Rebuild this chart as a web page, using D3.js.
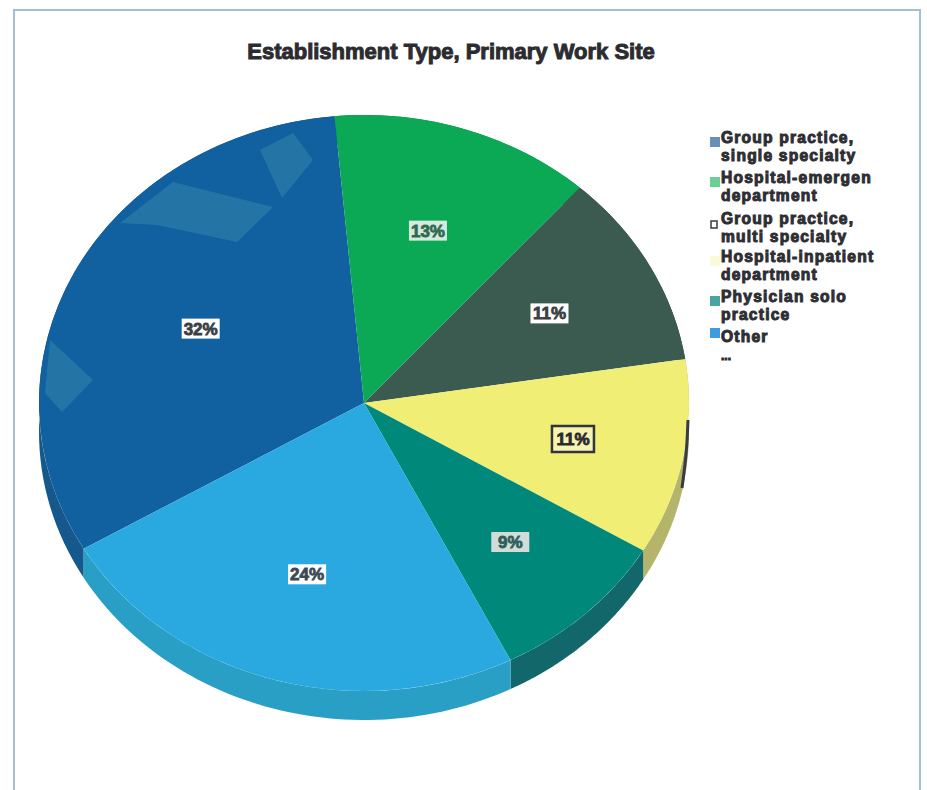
<!DOCTYPE html>
<html>
<head>
<meta charset="utf-8">
<script src="https://cdn.jsdelivr.net/npm/d3@7"></script>
<style>
  html, body { margin: 0; padding: 0; background: #ffffff; }
  svg { display: block; }
  text { font-family: "Liberation Sans", Arial, sans-serif; font-weight: 700; }
</style>
</head>
<body>
<svg id="chart" width="927" height="790"></svg>
<script>
// Establishment type at the primary work site, share of respondents
const categories = ["Group practice, single specialty", "Hospital-emergen department", "Group practice, multi specialty", "Hospital-inpatient department", "Physician solo practice", "Other"];
const shares = [32, 13, 11, 11, 9, 24];
const legendLines = [["Group practice,", "single specialty"], ["Hospital-emergen", "department"], ["Group practice,", "multi specialty"], ["Hospital-inpatient", "department"], ["Physician solo", "practice"], ["Other"], ["..."]];
const faceColors = ["#11609f", "#0ba956", "#3b5a50", "#f0ee74", "#00897a", "#2aa9e0"];
const wallColors = ["#15598c", "#0a8040", "#2d453d", "#b4b46a", "#11676a", "#2a9fc6"];
const swatchColors = ["#6a8fb5", "#6ccf96", "#ffffff", "#f9f9dc", "#4aa5a0", "#3f9be0"];
const labelFill = ["#ffffff", "#d6e9de", "#ffffff", "#f6f4b0", "#d2dcd9", "#ffffff"];
const labelInk = ["#3a3f45", "#2f6a50", "#3a4042", "#2a2a2e", "#2f5f5a", "#3a4a52"];
const labelReach = [0.565, 0.63, 0.65, 0.655, 0.66, 0.62];

const svg = d3.select("#chart");
const cx = 364, cy = 403, rx = 325, ry = 288, depth = 29;
const firstSliceStart = 239.6 * Math.PI / 180;

const pie = d3.pie().sort(null).startAngle(firstSliceStart).endAngle(firstSliceStart + 2 * Math.PI);
const slices = pie(shares);

// Unit circle to tilted ellipse
const px = d3.scaleLinear().domain([-1, 1]).range([cx - rx, cx + rx]);
const py = d3.scaleLinear().domain([-1, 1]).range([cy - ry, cy + ry]);
const rimPoint = (a, drop) => [px(Math.sin(a)), py(-Math.cos(a)) + drop];

// Page frame: thin blue-grey rule on three sides
const frame = d3.line();
svg.append("path")
  .attr("d", frame([[14, 790], [14, 10], [920, 10], [920, 790]]))
  .attr("fill", "none").attr("stroke", "#a3c0d0").attr("stroke-width", 2);

// Title
svg.append("text")
  .attr("x", 451).attr("y", 59)
  .attr("text-anchor", "middle")
  .attr("font-size", 22)
  .attr("fill", "#2c2c30").attr("stroke", "#2c2c30").attr("stroke-width", 1)
  .text("Establishment Type, Primary Work Site");

// Extruded side of the pie, painted under the top face
const wallLine = d3.line();
svg.append("g").selectAll("path").data(slices).join("path")
  .attr("d", d => {
    const steps = d3.range(0, 61).map(i => d.startAngle + (d.endAngle - d.startAngle) * i / 60);
    return wallLine(steps.map(a => rimPoint(a, 0)).concat(steps.slice().reverse().map(a => rimPoint(a, depth)))) + "Z";
  })
  .attr("fill", (d, i) => wallColors[i]);

// Top face
const arc = d3.arc().innerRadius(0).outerRadius(rx);
const face = svg.append("g").attr("transform", `translate(${cx},${cy}) scale(1,${ry / rx})`);
face.selectAll("path").data(slices).join("path")
  .attr("d", arc)
  .attr("fill", (d, i) => faceColors[i]);

// Lighter reflections on the largest slice
const sheen = [
  [[120, 223], [173, 182], [273, 207], [237, 242], [157, 225]],
  [[260, 150], [293, 133], [313, 160], [282, 198]],
  [[50, 340], [93, 380], [62, 412], [45, 393]]
];
svg.append("g").selectAll("path").data(sheen).join("path")
  .attr("d", d => d3.line()(d) + "Z")
  .attr("fill", "#3f8fb0").attr("fill-opacity", 0.45);

// Dark scuff on the right rim
svg.append("path")
  .attr("d", d3.line().curve(d3.curveBasis)([[688, 420], [687, 445], [685, 465], [682, 488]]))
  .attr("fill", "none").attr("stroke", "#3a3a44").attr("stroke-width", 3);

// Percentage labels in small boxes
const labels = svg.append("g").selectAll("g").data(slices).join("g")
  .attr("transform", (d, i) => {
    const mid = (d.startAngle + d.endAngle) / 2;
    return `translate(${cx + rx * labelReach[i] * Math.sin(mid)},${cy - ry * labelReach[i] * Math.cos(mid)})`;
  });
labels.append("rect")
  .attr("x", (d, i) => i === 3 ? -21 : -19).attr("y", (d, i) => i === 3 ? -13 : -10)
  .attr("width", (d, i) => i === 3 ? 42 : 38).attr("height", (d, i) => i === 3 ? 26 : 20)
  .attr("fill", (d, i) => labelFill[i])
  .attr("stroke", (d, i) => i === 3 ? "#34343c" : "none")
  .attr("stroke-width", 2.5);
labels.append("text")
  .attr("text-anchor", "middle").attr("y", 6)
  .attr("font-size", 17)
  .attr("fill", (d, i) => labelInk[i]).attr("stroke", (d, i) => labelInk[i]).attr("stroke-width", 0.8)
  .text(d => d.value + "%");

// Legend
const legendTop = [143, 183, 224, 262, 302, 342, 360];
const legend = svg.append("g").selectAll("g").data(legendLines).join("g")
  .attr("transform", (d, i) => `translate(721,${legendTop[i]})`);
legend.selectAll("text").data(d => d).join("text")
  .attr("y", (d, i) => i * 18)
  .attr("font-size", d => d === "..." ? 12 : 15.6)
  .attr("letter-spacing", d => d === "..." ? 0 : 1.2)
  .attr("fill", "#2e2e33").attr("stroke", "#2e2e33").attr("stroke-width", 1)
  .text(d => d);
legend.filter((d, i) => i < categories.length).append("rect")
  .attr("x", (d, i) => i === 2 ? -10 : -11).attr("y", (d, i) => i === 2 ? -3 : (i === 5 ? -14 : -6))
  .attr("width", (d, i) => i === 2 ? 6 : 10).attr("height", (d, i) => i === 2 ? 7 : 10)
  .attr("fill", (d, i) => swatchColors[i])
  .attr("stroke", (d, i) => i === 2 ? "#3a3a3a" : "none").attr("stroke-width", 1.5);
</script>
</body>
</html>
